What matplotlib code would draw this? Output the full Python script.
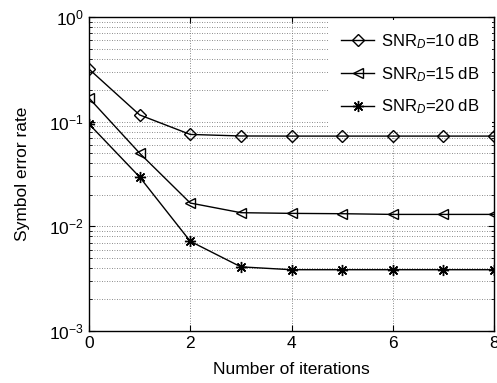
import matplotlib
matplotlib.use("Agg")
import matplotlib.pyplot as plt
from matplotlib.ticker import LogLocator, NullFormatter

plt.rcParams['font.family'] = ['Liberation Sans', 'DejaVu Sans']
plt.rcParams['mathtext.fontset'] = 'custom'
plt.rcParams['mathtext.rm'] = 'Liberation Sans'
plt.rcParams['mathtext.it'] = 'Liberation Sans:italic'

iterations = [0, 1, 2, 3, 4, 5, 6, 7, 8]
ser_10db = [0.318, 0.116, 0.0755, 0.0730, 0.0728, 0.0728, 0.0728, 0.0728, 0.0728]
ser_15db = [0.168, 0.050, 0.0167, 0.0135, 0.0133, 0.0132, 0.0130, 0.0130, 0.0130]
ser_20db = [0.095, 0.0296, 0.0072, 0.0041, 0.00385, 0.00385, 0.00385, 0.00385, 0.00385]
labels = [r'SNR$_{\mathit{D}}$=10 dB', r'SNR$_{\mathit{D}}$=15 dB', r'SNR$_{\mathit{D}}$=20 dB']
xticks = [0, 2, 4, 6, 8]

fig = plt.figure(figsize=(4.97, 3.83), dpi=100)
ax = fig.add_axes([89/497, 1-331/383, (494-89)/497, (331-17)/383])

ax.plot(iterations, ser_10db, '-', color='black', lw=1, marker='D', markersize=6.5,
        markerfacecolor='none', markeredgewidth=1, label=labels[0])
ax.plot(iterations, ser_15db, '-', color='black', lw=1, marker='<', markersize=7.5,
        markerfacecolor='none', markeredgewidth=1, label=labels[1])
ax.plot(iterations, ser_20db, '-', color='black', lw=1, marker=(8, 2, 0), markersize=8,
        markerfacecolor='none', markeredgewidth=1, label=labels[2])

ax.set_yscale('log')
ax.set_ylim(1e-3, 1)
ax.set_xlim(0, 8)
ax.set_xticks(xticks)
ax.yaxis.set_major_locator(LogLocator(base=10, numticks=10))
ax.yaxis.set_minor_locator(LogLocator(base=10, subs=range(2, 10), numticks=10))
ax.yaxis.set_minor_formatter(NullFormatter())

grid_kw = dict(linestyle=(0, (1, 2)), color='#666666', lw=0.6)
ax.grid(True, which='major', **grid_kw)
ax.grid(True, which='minor', axis='y', **grid_kw)
ax.tick_params(which='both', direction='in', top=True, right=True, labelsize=12.5)
ax.tick_params(which='major', length=4)
ax.tick_params(which='minor', length=2)

for s in ax.spines.values():
    s.set_linewidth(1)

ax.set_xlabel('Number of iterations', fontsize=12.5, labelpad=8)
ax.set_ylabel('Symbol error rate', fontsize=12.5, labelpad=14)

leg = ax.legend(loc='upper right', fontsize=12, frameon=True, fancybox=False,
                edgecolor='none', facecolor='white', framealpha=1,
                borderaxespad=0.15, handlelength=1.95, labelspacing=0.85,
                borderpad=0.75, handletextpad=0.4)

fig.savefig('out.png', dpi=100)
